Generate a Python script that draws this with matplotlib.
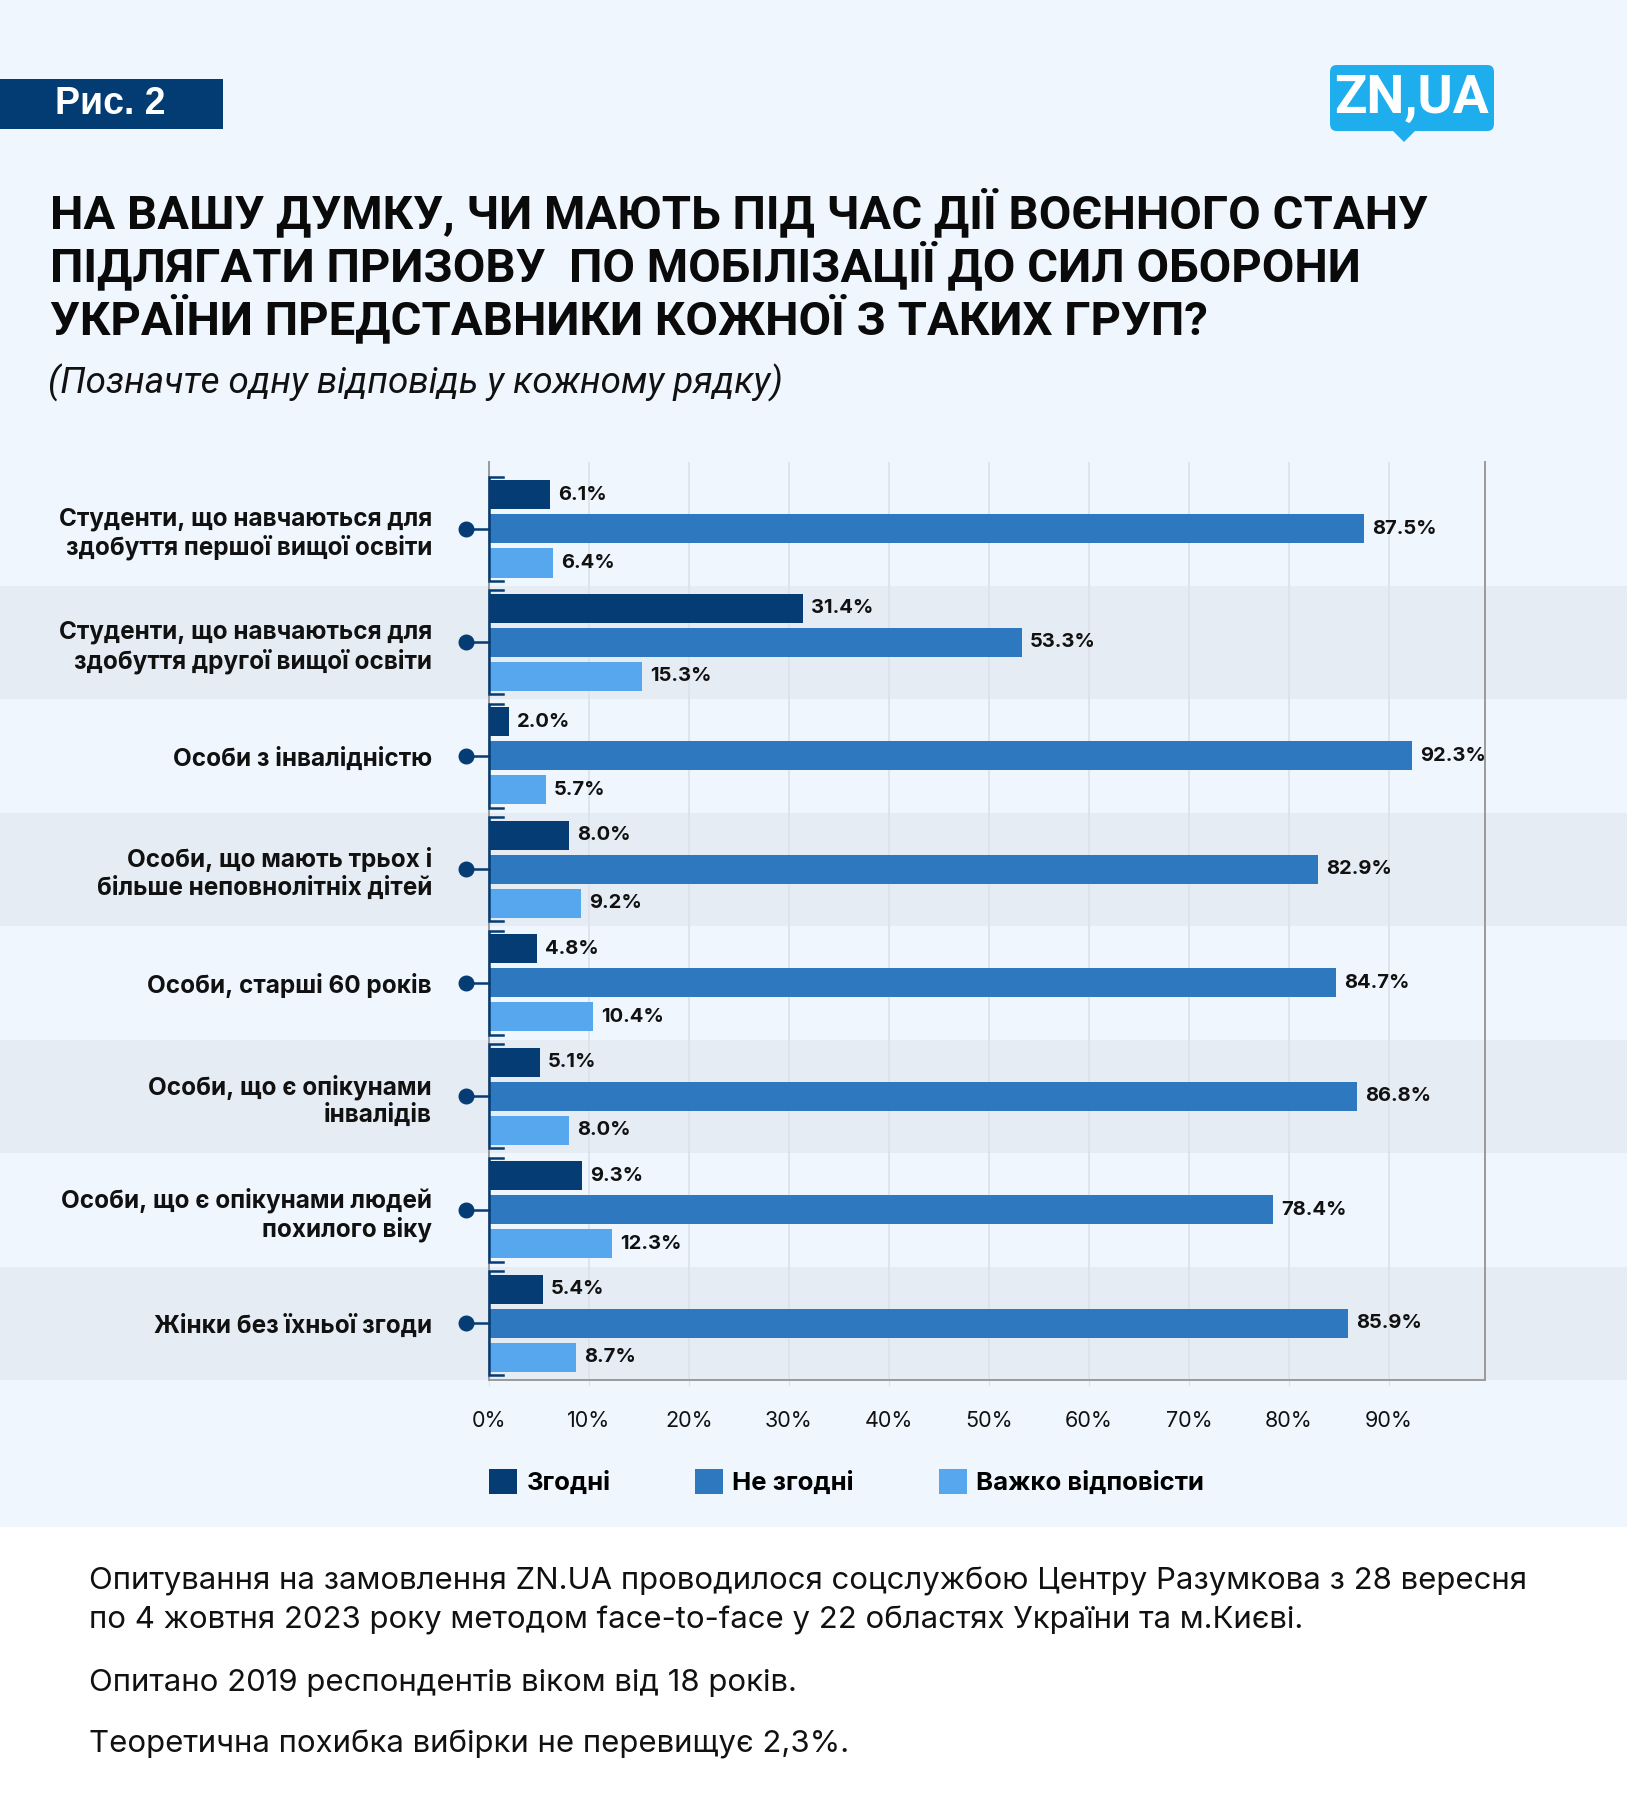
import matplotlib

matplotlib.use("Agg")
import matplotlib.pyplot as plt
import matplotlib.transforms as mtransforms
from matplotlib.patches import FancyBboxPatch, Polygon, Rectangle

W, H = 1627, 1820

CATEGORIES = [
    "Студенти, що навчаються для\nздобуття першої вищої освіти",
    "Студенти, що навчаються для\nздобуття другої вищої освіти",
    "Особи з інвалідністю",
    "Особи, що мають трьох і\nбільше неповнолітніх дітей",
    "Особи, старші 60 років",
    "Особи, що є опікунами\nінвалідів",
    "Особи, що є опікунами людей\nпохилого віку",
    "Жінки без їхньої згоди",
]
AGREE = [6.1, 31.4, 2.0, 8.0, 4.8, 5.1, 9.3, 5.4]
DISAGREE = [87.5, 53.3, 92.3, 82.9, 84.7, 86.8, 78.4, 85.9]
HARD = [6.4, 15.3, 5.7, 9.2, 10.4, 8.0, 12.3, 8.7]
SERIES = ["Згодні", "Не згодні", "Важко відповісти"]
COLORS = ["#053c74", "#2e78c0", "#57a7ee"]
XTICKS = [0, 10, 20, 30, 40, 50, 60, 70, 80, 90]

TITLE = [
    "НА ВАШУ ДУМКУ, ЧИ МАЮТЬ ПІД ЧАС ДІЇ ВОЄННОГО СТАНУ",
    "ПІДЛЯГАТИ ПРИЗОВУ  ПО МОБІЛІЗАЦІЇ ДО СИЛ ОБОРОНИ",
    "УКРАЇНИ ПРЕДСТАВНИКИ КОЖНОЇ З ТАКИХ ГРУП?",
]
SUBTITLE = "(Позначте одну відповідь у кожному рядку)"
NOTES = [
    "Опитування на замовлення ZN.UA проводилося соцслужбою Центру Разумкова з 28 вересня\n"
    "по 4 жовтня 2023 року методом face-to-face у 22 областях України та м.Києві.",
    "Опитано 2019 респондентів віком від 18 років.",
    "Теоретична похибка вибірки не перевищує 2,3%.",
]

BG = "#eff6fe"
BAND = "#e5ecf4"
FONT = ["Inter", "DejaVu Sans"]
NARROW = ["Liberation Sans Narrow", "Roboto", "DejaVu Sans"]


def fx(x):
    return x / W


def fy(y):
    return 1 - y / H


def main():
    plt.rcParams["font.family"] = FONT
    fig = plt.figure(figsize=(W / 100, H / 100), dpi=100, facecolor="white")
    fig.add_artist(Rectangle((0, fy(1527)), 1, 1 - fy(1527), transform=fig.transFigure,
                             facecolor=BG, edgecolor="none", zorder=-10))

    ax = fig.add_axes([fx(489), fy(1380), fx(1485) - fx(489), fy(462) - fy(1380)])
    ax.set_facecolor("none")
    n = len(CATEGORIES)
    ys = list(range(n))
    off, h = 0.30, 0.256

    # alternating row bands across the full width
    band_tr = mtransforms.blended_transform_factory(fig.transFigure, ax.transData)
    for i in ys:
        if i % 2 == 1:
            ax.add_patch(Rectangle((0, i - 0.5), 1, 1, transform=band_tr, facecolor=BAND,
                                   edgecolor="none", clip_on=False, zorder=0))

    groups = [AGREE, DISAGREE, HARD]
    handles = []
    for k, (vals, col) in enumerate(zip(groups, COLORS)):
        pos = [y + (k - 1) * off for y in ys]
        bars = ax.barh(pos, vals, height=h, color=col, zorder=2, label=SERIES[k])
        handles.append(bars)
        for p, v in zip(pos, vals):
            ax.text(v + 0.8, p, f"{v:.1f}%", va="center", ha="left", fontsize=14.5,
                    fontweight="bold", color="#111111", zorder=4)

    # bracket + dot marker on the left of every group
    for y in ys:
        top, bot = y - off - h / 2 - 0.03, y + off + h / 2 + 0.03
        ax.plot([1.4, 0, 0, 1.4], [top, top, bot, bot], color=COLORS[0], lw=1.8,
                zorder=3, clip_on=False, solid_joinstyle="miter")
        ax.plot([-2.3, 0], [y, y], color=COLORS[0], lw=1.8, marker="o", markersize=10.5,
                markevery=[0], clip_on=False, zorder=3)

    ax.set_xlim(0, 99.6)
    ax.set_ylim(n - 0.5, -0.59)
    ax.set_yticks(ys)
    ax.set_yticklabels(CATEGORIES, fontsize=17.5, fontweight="bold", color="#111111")
    for lbl in ax.get_yticklabels():
        lbl.set_multialignment("right")
        lbl.set_linespacing(1.2)
    ax.tick_params(axis="y", length=0, pad=41)
    ax.set_xticks(XTICKS)
    ax.set_xticklabels([f"{t}%" for t in XTICKS], fontsize=15.5, color="#111111")
    ax.tick_params(axis="x", length=4, color="#dde3ea", pad=18)
    ax.grid(axis="x", color="#dde3ea", lw=1.3)
    ax.set_axisbelow(True)
    ax.spines["top"].set_visible(False)
    for s in ("left", "right", "bottom"):
        ax.spines[s].set_color("#9a9a9a")
        ax.spines[s].set_linewidth(1.4)

    fig.legend(handles=handles, labels=SERIES, loc="center left",
               bbox_to_anchor=(fx(466), fy(1482)), ncol=3, frameon=False,
               prop={"weight": "bold", "size": 18.5},
               handlelength=1.1, handleheight=1.1, handletextpad=0.35,
               columnspacing=3.3)

    # header
    fig.add_artist(Rectangle((0, fy(129)), fx(223), fy(79) - fy(129), transform=fig.transFigure,
                             facecolor="#033b73", edgecolor="none"))
    fig.text(fx(110), fy(104), "Рис. 2", ha="center", va="center", color="white",
             fontsize=27, fontweight="bold", family=["Liberation Sans", "DejaVu Sans"])

    fig.add_artist(FancyBboxPatch((fx(1330), fy(131)), fx(164), fy(65) - fy(131),
                                  boxstyle="round,pad=0,rounding_size=0.004",
                                  transform=fig.transFigure, facecolor="#1eaeee",
                                  edgecolor="none"))
    fig.add_artist(Polygon([(fx(1392), fy(130)), (fx(1416), fy(130)), (fx(1404), fy(142))],
                           closed=True, transform=fig.transFigure, facecolor="#1eaeee",
                           edgecolor="none"))
    fig.text(fx(1411), fy(98), "ZN,UA", ha="center", va="center", color="white",
             fontsize=38.5, fontweight="bold", family=NARROW)

    for i, line in enumerate(TITLE):
        fig.text(fx(50), fy(212 + i * 53), line, ha="left", va="center", fontsize=34,
                 fontweight="bold", family=NARROW, color="#0a0a0a")
    fig.text(fx(48), fy(383), SUBTITLE, ha="left", va="center", fontsize=26.5,
             style="italic", family=["Roboto", "DejaVu Sans"], color="#111111")

    note_y = [1601, 1683, 1744]
    for y, note in zip(note_y, NOTES):
        fig.text(fx(89), fy(y), note, ha="left", va="center", fontsize=22.4,
                 color="#111111", linespacing=1.45)

    fig.savefig("out.png", dpi=100, facecolor="white")


if __name__ == "__main__":
    main()
